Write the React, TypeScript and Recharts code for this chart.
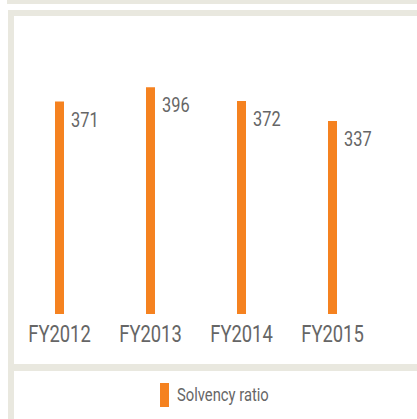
import React from "react";
import { BarChart, Bar, XAxis, YAxis, LabelList } from "recharts";

const categories = ["FY2012", "FY2013", "FY2014", "FY2015"];
const solvencyRatio = [371, 396, 372, 337];
const seriesName = "Solvency ratio";

const data = categories.map((c, i) => ({ year: c, value: solvencyRatio[i] }));

const ORANGE = "#F58220";
const BEIGE = "#E9E8DF";
const TEXT = "#666666";
const FONT = "Roboto, 'Noto Sans', sans-serif";

const XTick = (props: any) => {
  const { x, y, payload } = props;
  return (
    <g transform={`translate(${x},${Number(y) + 28})`}>
      <text x={0} y={0} transform="scale(0.8,1)" textAnchor="middle" fill={TEXT} fontSize={23} fontFamily={FONT}>
        {payload.value}
      </text>
    </g>
  );
};

const ValueLabel = (props: any) => {
  const { x, y, width, value } = props;
  return (
    <g transform={`translate(${Number(x) + Number(width) + 7},${Number(y) + 25})`}>
      <text x={0} y={0} transform="scale(0.78,1)" fill={TEXT} fontSize={21} fontFamily={FONT}>
        {value}
      </text>
    </g>
  );
};

export default function App() {
  return (
    <div style={{ position: "absolute", left: 0, top: 0, width: 417, height: 419, background: "#fff", overflow: "hidden" }}>
      <div style={{ position: "absolute", left: 7, top: 0, width: 410, height: 3.5, background: BEIGE }} />
      <div style={{ position: "absolute", left: 8, top: 10, width: 409, height: 6, background: BEIGE }} />
      <div style={{ position: "absolute", left: 8, top: 10, width: 6, height: 409, background: BEIGE }} />
      <div style={{ position: "absolute", left: 8, top: 364, width: 409, height: 7, background: BEIGE }} />
      <div style={{ position: "absolute", left: 0, top: 0 }}>
        <BarChart
          width={417}
          height={419}
          data={data}
          margin={{ top: 85, right: 39, bottom: 75, left: 14 }}
        >
          <XAxis
            dataKey="year"
            axisLine={false}
            tickLine={false}
            tickSize={0}
            tickMargin={0}
            height={30}
            interval={0}
            tick={<XTick />}
          />
          <YAxis hide domain={[0, 400]} />
          <Bar dataKey="value" name={seriesName} fill={ORANGE} barSize={9} isAnimationActive={false}>
            <LabelList dataKey="value" content={<ValueLabel />} />
          </Bar>
        </BarChart>
      </div>
      <div style={{ position: "absolute", left: 160, top: 383, width: 9, height: 24, background: ORANGE }} />
      <div
        style={{
          position: "absolute",
          left: 177,
          top: 383,
          height: 24,
          lineHeight: "24px",
          fontFamily: FONT,
          fontSize: 18,
          color: TEXT,
          whiteSpace: "nowrap",
          transform: "scaleX(0.82)",
          transformOrigin: "left center",
        }}
      >
        {seriesName}
      </div>
    </div>
  );
}
